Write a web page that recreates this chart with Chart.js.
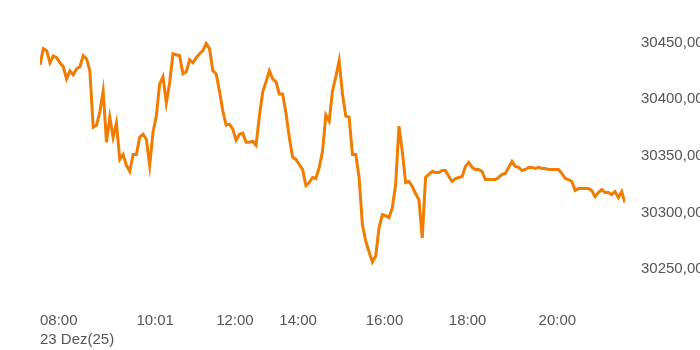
<!DOCTYPE html>
<html lang="pt-BR">
<head>
<meta charset="utf-8">
<script src="https://cdn.jsdelivr.net/npm/chart.js@4/dist/chart.umd.min.js"></script>
<style>
  body { margin: 0; background: #fff; }
  canvas { display: block; }
</style>
</head>
<body>
<canvas id="graficoCotacao" width="700" height="350"></canvas>
<script>
// Cotação intradiária
const cotacoes = [
  30430.4, 30444.7, 30442.9, 30432.2, 30438.4, 30436.7, 30432.2, 30428.7, 30418.0, 30425.1,
  30421.6, 30426.9, 30428.7, 30438.4, 30435.8, 30425.1, 30375.3, 30377.1, 30388.7, 30407.3,
  30362.0, 30384.2, 30366.4, 30378.9, 30346.9, 30351.3, 30341.6, 30336.2, 30351.3, 30351.3,
  30366.4, 30369.1, 30364.7, 30341.6, 30370.9, 30385.1, 30413.6, 30419.8, 30396.7, 30414.4,
  30440.2, 30439.3, 30438.4, 30422.4, 30424.2, 30434.9, 30432.2, 30436.7, 30440.2, 30442.9,
  30449.1, 30444.7, 30425.1, 30422.4, 30407.3, 30389.6, 30377.1, 30378.0, 30373.6, 30363.8,
  30369.1, 30370.0, 30362.0, 30362.0, 30362.9, 30359.3, 30385.1, 30406.4, 30415.3, 30425.1,
  30418.0, 30415.3, 30404.7, 30404.7, 30387.8, 30366.4, 30348.7, 30346.9, 30342.4, 30338.0,
  30323.8, 30326.4, 30330.9, 30330.0, 30339.8, 30354.0, 30386.0, 30380.7, 30407.3, 30419.8,
  30434.0, 30404.7, 30385.1, 30384.2, 30351.3, 30351.3, 30330.9, 30289.1, 30274.9, 30265.1,
  30256.2, 30261.6, 30286.4, 30298.0, 30297.1, 30295.3, 30304.2, 30324.7, 30376.2, 30354.0,
  30326.4, 30327.3, 30322.9, 30316.7, 30311.3, 30277.6, 30330.9, 30333.6, 30336.2, 30335.3,
  30335.3, 30337.1, 30337.1, 30331.8, 30327.3, 30330.0, 30330.9, 30331.8, 30340.7, 30344.2,
  30339.8, 30338.0, 30338.0, 30336.2, 30329.1, 30329.1, 30329.1, 30329.1, 30330.9, 30333.6,
  30334.4, 30339.8, 30345.1, 30340.7, 30339.8, 30337.1, 30338.0, 30339.8, 30339.8, 30338.9,
  30339.8, 30338.9, 30338.9, 30338.0, 30338.0, 30338.0, 30338.0, 30334.4, 30330.0, 30329.1,
  30327.3, 30319.3, 30321.1, 30321.1, 30321.1, 30321.1, 30319.3, 30314.0, 30317.6, 30320.2,
  30317.6, 30317.6, 30315.8, 30318.4, 30313.1, 30318.4, 30308.7
];

// Rótulos do eixo X (posição no índice dos pontos)
const indicesHorario = [0, 29, 53, 72, 98, 123, 150];
const textosHorario = [['08:00', '23 Dez(25)'], '10:01', '12:00', '14:00', '16:00', '18:00', '20:00'];

// Rótulos do eixo Y
const valoresEixoY = [30250, 30300, 30350, 30400, 30450];

const pontos = cotacoes.map((v, i) => ({ x: i, y: v }));

const ctx = document.getElementById('graficoCotacao').getContext('2d');
const graficoCotacao = new Chart(ctx, {
    type: 'line',
    data: {
        datasets: [{
            label: 'Cotação',
            data: pontos,
            borderColor: '#f07c00',
            borderWidth: 3,
            fill: false,
            tension: 0,
            pointRadius: 0
        }]
    },
    options: {
        responsive: false,
        animation: false,
        layout: { padding: { left: 40, top: 20, right: 0, bottom: 0 } },
        plugins: { legend: { display: false }, tooltip: { enabled: false } },
        scales: {
            x: {
                type: 'linear',
                min: 0,
                max: cotacoes.length - 1,
                grid: { display: false },
                border: { display: false },
                afterBuildTicks: (eixo) => { eixo.ticks = indicesHorario.map(v => ({ value: v })); },
                afterFit: (eixo) => { eixo.height = 60; },
                ticks: {
                    autoSkip: false,
                    maxRotation: 0,
                    align: 'start',
                    padding: 13,
                    color: '#555',
                    font: { family: 'Liberation Sans, Arial, sans-serif', size: 15, lineHeight: 1.3 },
                    callback: (valor) => textosHorario[indicesHorario.indexOf(valor)]
                }
            },
            y: {
                position: 'right',
                min: 30231.5,
                max: 30470,
                grid: { display: false },
                border: { display: false },
                afterBuildTicks: (eixo) => { eixo.ticks = valoresEixoY.map(v => ({ value: v })); },
                afterFit: (eixo) => { eixo.width = 75; },
                ticks: {
                    padding: 8,
                    color: '#555',
                    font: { family: 'Liberation Sans, Arial, sans-serif', size: 15 },
                    callback: (valor) => valor.toFixed(2).replace('.', ',')
                }
            }
        }
    }
});
</script>
</body>
</html>
